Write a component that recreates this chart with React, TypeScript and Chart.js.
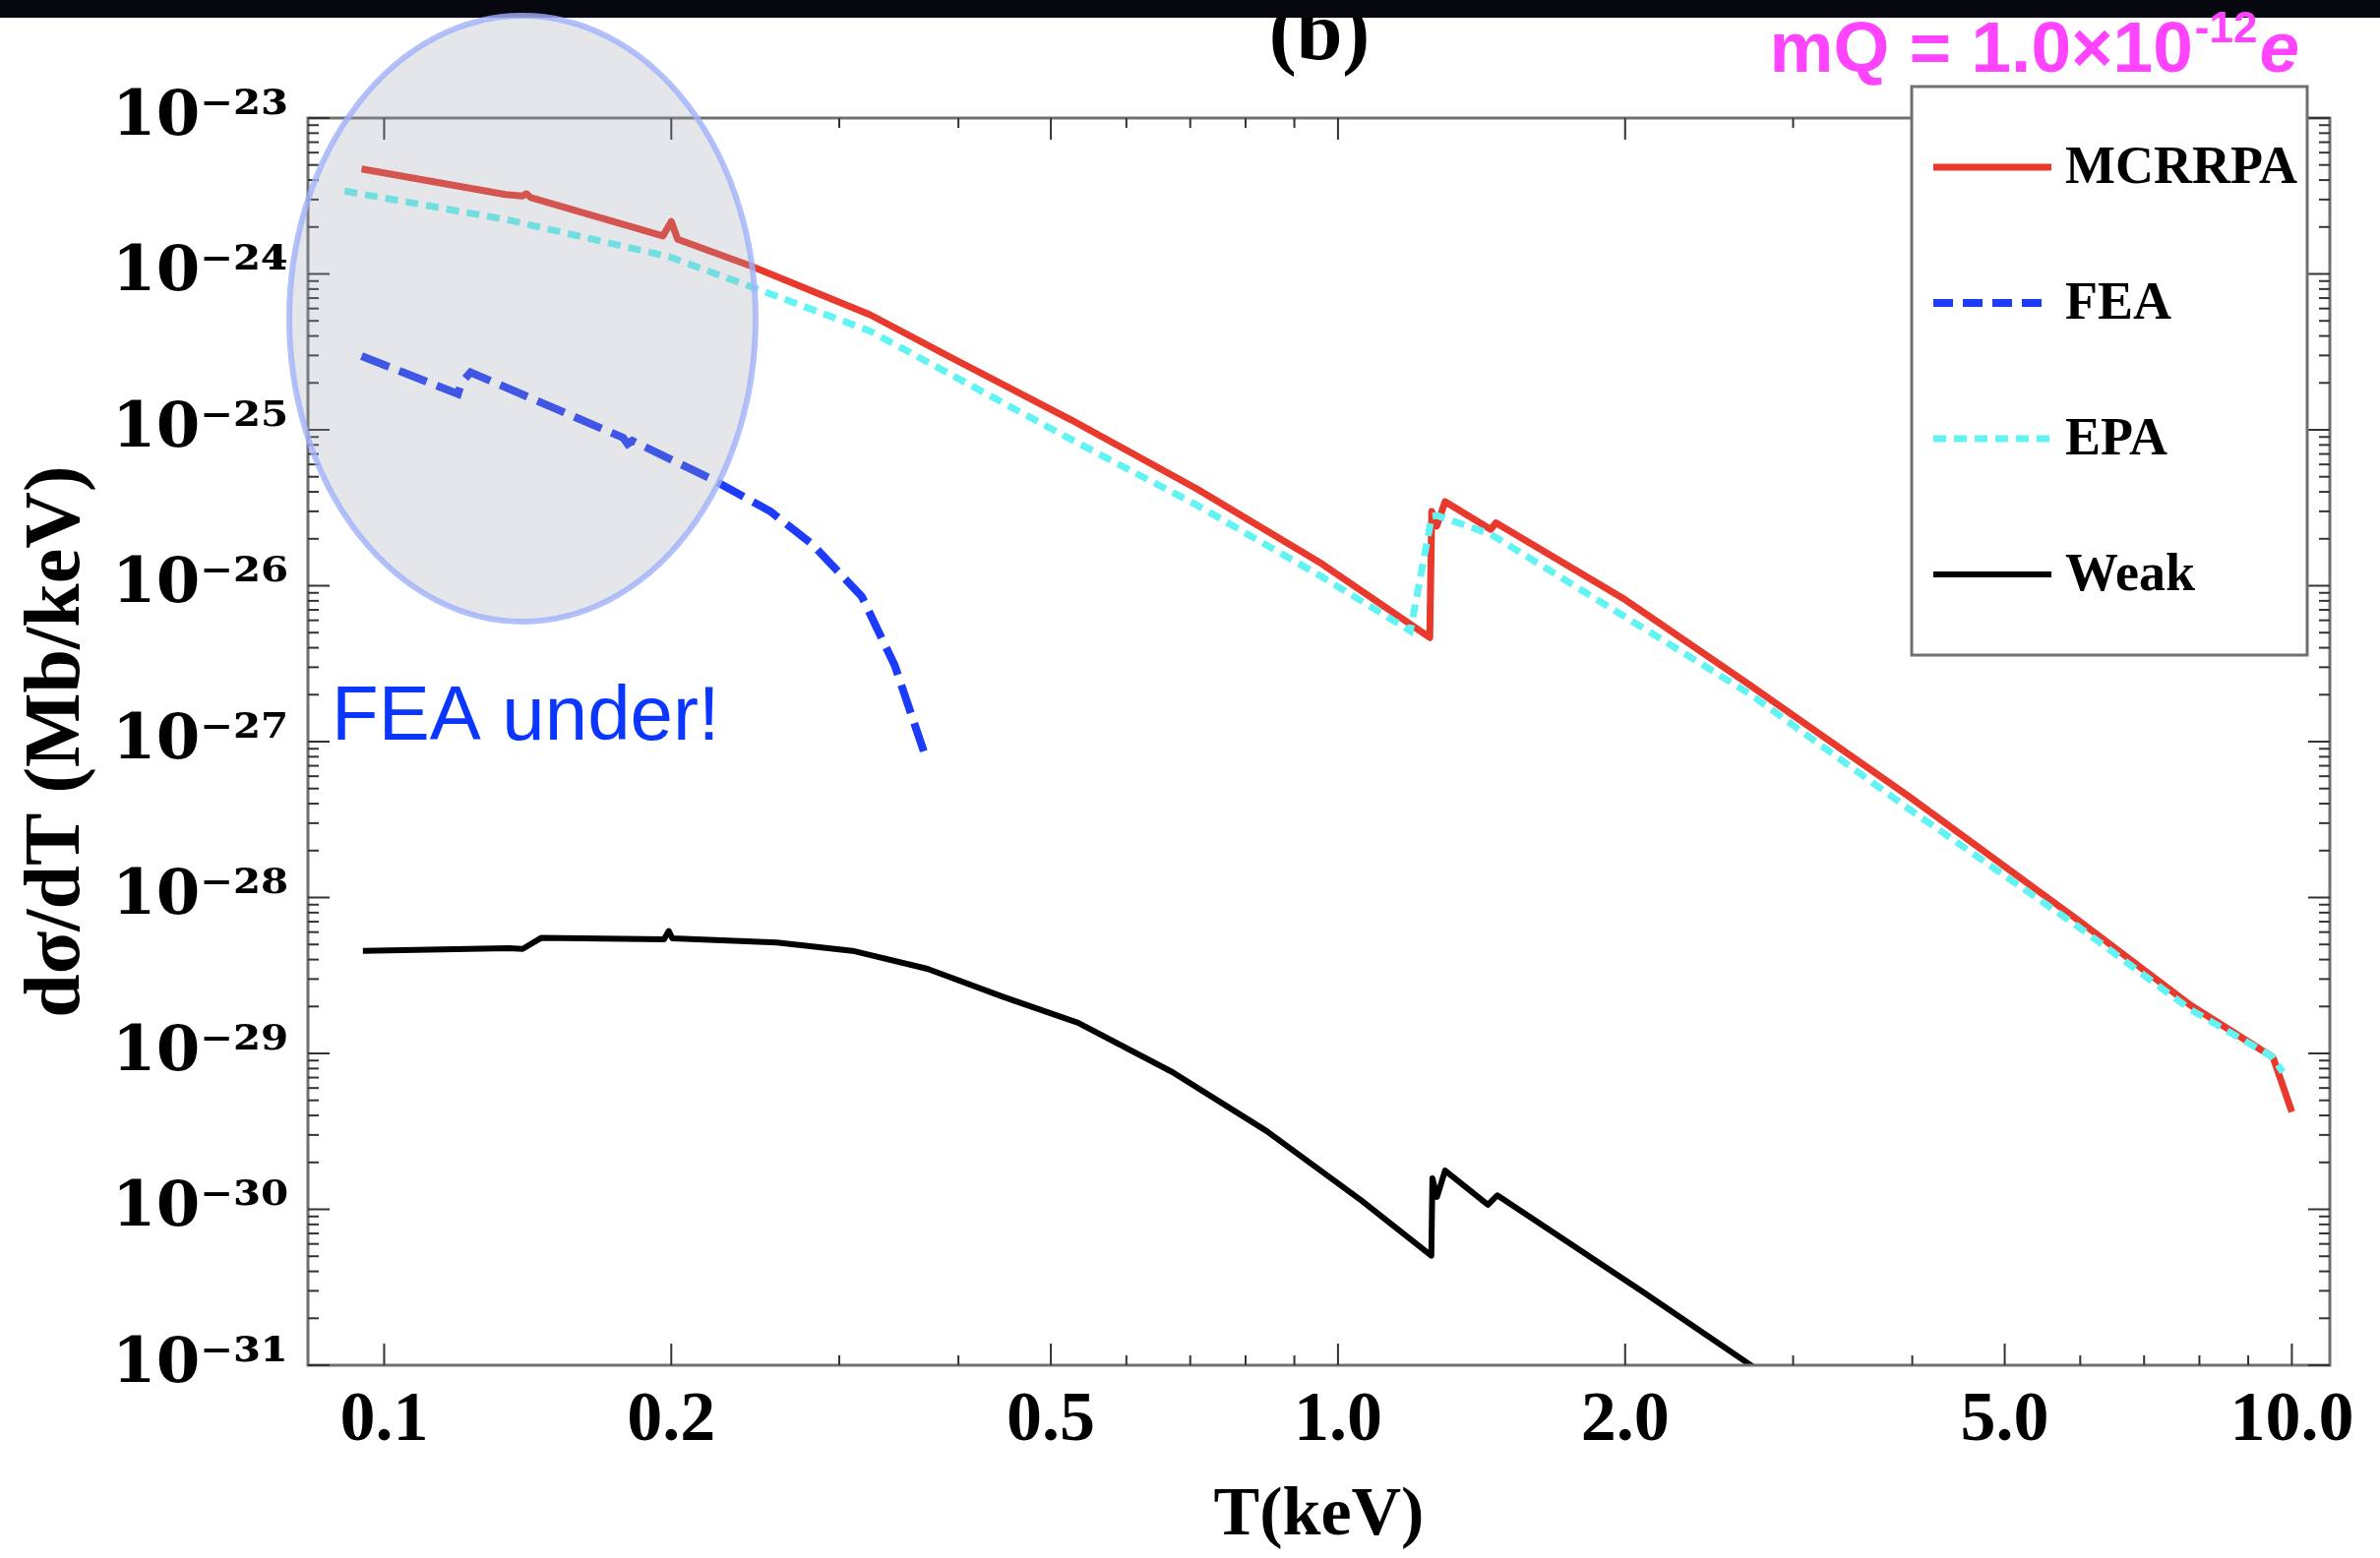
import { useEffect, useRef } from 'react';
import { Chart, registerables } from 'chart.js';

Chart.register(...registerables);

// ---------- data ----------
const SERIES_LABELS = ['MCRRPA', 'FEA', 'EPA', 'Weak'];

const MCRRPA_T = [0.0947, 0.134, 0.1395, 0.141, 0.1425, 0.196, 0.2, 0.2031, 0.2417, 0.3232, 0.3925, 0.5249, 0.7105, 0.9621, 1.248, 1.254, 1.269, 1.295, 1.446, 1.464, 2.003, 2.704, 3.963, 5.965, 7.832, 9.555, 10.0];
const MCRRPA_V = [4.72e-24, 3.23e-24, 3.16e-24, 3.27e-24, 3.09e-24, 1.75e-24, 2.17e-24, 1.67e-24, 1.13e-24, 5.47e-25, 2.92e-25, 1.16e-25, 4.2e-26, 1.38e-26, 4.65e-27, 2.99e-26, 2.41e-26, 3.46e-26, 2.3e-26, 2.53e-26, 8.09e-27, 2.3e-27, 4.47e-28, 7.19e-29, 2.04e-29, 9.44e-30, 4.22e-30];

const FEA_T = [0.0947, 0.1195, 0.1205, 0.1232, 0.178, 0.18, 0.182, 0.2211, 0.2542, 0.2809, 0.3168, 0.343, 0.37];
const FEA_V = [2.97e-25, 1.7e-25, 2.0e-25, 2.34e-25, 8.91e-26, 8.13e-26, 8.51e-26, 4.79e-26, 2.99e-26, 1.85e-26, 8.51e-27, 3.08e-27, 7.82e-28];

const EPA_T = [0.0909, 0.134, 0.199, 0.2408, 0.3232, 0.5249, 0.7105, 0.9621, 1.191, 1.254, 1.27, 1.446, 1.946, 2.704, 3.963, 5.965, 7.832, 9.555, 9.78];
const EPA_V = [3.4e-24, 2.24e-24, 1.29e-24, 8.41e-25, 4.3e-25, 8.69e-26, 3.3e-26, 1.14e-26, 5.13e-27, 2.79e-26, 2.82e-26, 2.14e-26, 7.0e-27, 2.02e-27, 3.72e-28, 6.53e-29, 1.91e-29, 9.44e-30, 7.59e-30];

const WEAK_T = [0.095, 0.1351, 0.1397, 0.1462, 0.1965, 0.1988, 0.2005, 0.258, 0.3097, 0.3712, 0.4453, 0.534, 0.6705, 0.8415, 1.056, 1.2527, 1.256, 1.27, 1.295, 1.436, 1.469, 2.088, 2.8];
const WEAK_V = [4.55e-29, 4.73e-29, 4.68e-29, 5.52e-29, 5.4e-29, 6.1e-29, 5.47e-29, 5.14e-29, 4.55e-29, 3.49e-29, 2.31e-29, 1.57e-29, 7.59e-30, 3.18e-30, 1.15e-30, 5.04e-31, 1.58e-30, 1.2e-30, 1.77e-30, 1.07e-30, 1.23e-30, 2.95e-31, 8.71e-32];

const X_TICKS = [0.1, 0.2, 0.5, 1, 2, 5, 10];
const X_TICK_LABELS = ['0.1', '0.2', '0.5', '1.0', '2.0', '5.0', '10.0'];
const X_MINOR_TICKS = [0.3, 0.4, 0.6, 0.7, 0.8, 0.9, 3, 4, 6, 7, 8, 9];
const Y_TICK_EXPONENTS = [-31, -30, -29, -28, -27, -26, -25, -24, -23];
const Y_MINOR_MULTIPLIERS = [2, 3, 4, 5, 6, 7, 8, 9];

const TITLE_TEXT = '(b)';
const MQ_MAIN = 'mQ = 1.0×10';
const MQ_SUP = '-12';
const MQ_TAIL = 'e';
const NOTE_TEXT = 'FEA under!';
const X_TITLE = 'T(keV)';
const Y_TITLE = 'dσ/dT (Mb/keV)';

// ---------- styling ----------
const SERIF = "'Liberation Serif', 'DejaVu Serif', 'Times New Roman', serif";
const DSERIF = "'DejaVu Serif', 'Liberation Serif', serif";
const SANS = "'Liberation Sans', Arial, Helvetica, sans-serif";
const W = 2419;
const H = 1584;

const SUP: Record<string, string> = {
  '0': '⁰', '1': '¹', '2': '²', '3': '³', '4': '⁴', '5': '⁵', '6': '⁶', '7': '⁷', '8': '⁸', '9': '⁹', '-': '⁻',
};
const supText = (s: string) => s.split('').map((c) => SUP[c] ?? c).join('');

const pts = (t: number[], v: number[]) => t.map((x, i) => ({ x, y: v[i] }));

const decorPlugin = {
  id: 'decor',
  afterDraw(chart: any) {
    const { ctx, chartArea: a, scales } = chart;
    const xs = scales.x;
    const ys = scales.y;
    ctx.save();

    // frame
    ctx.strokeStyle = '#707070';
    ctx.lineWidth = 3;
    ctx.strokeRect(a.left, a.top, a.right - a.left, a.bottom - a.top);

    // inward ticks
    ctx.strokeStyle = '#333333';
    ctx.lineWidth = 2;
    const seg = (x1: number, y1: number, x2: number, y2: number) => {
      ctx.beginPath();
      ctx.moveTo(x1, y1);
      ctx.lineTo(x2, y2);
      ctx.stroke();
    };
    X_TICKS.forEach((v) => {
      const p = xs.getPixelForValue(v);
      seg(p, a.bottom, p, a.bottom - 22);
      seg(p, a.top, p, a.top + 22);
    });
    X_MINOR_TICKS.forEach((v) => {
      const p = xs.getPixelForValue(v);
      seg(p, a.bottom, p, a.bottom - 10);
      seg(p, a.top, p, a.top + 10);
    });
    Y_TICK_EXPONENTS.forEach((e) => {
      const p = ys.getPixelForValue(Math.pow(10, e));
      seg(a.left, p, a.left + 22, p);
      seg(a.right, p, a.right - 22, p);
      if (e < -23) {
        Y_MINOR_MULTIPLIERS.forEach((m) => {
          const q = ys.getPixelForValue(m * Math.pow(10, e));
          seg(a.left, q, a.left + 11, q);
          seg(a.right, q, a.right - 11, q);
        });
      }
    });

    // legend box
    const lx = 1943, ly = 88, lw = 402, lh = 578;
    ctx.fillStyle = '#ffffff';
    ctx.fillRect(lx, ly, lw, lh);
    ctx.strokeStyle = '#707070';
    ctx.lineWidth = 3;
    ctx.strokeRect(lx, ly, lw, lh);
    const rows = [170, 308, 446, 584];
    chart.data.datasets.forEach((ds: any, i: number) => {
      const yy = rows[i];
      ctx.save();
      ctx.strokeStyle = ds.borderColor;
      ctx.lineWidth = ds.borderWidth;
      ctx.setLineDash(ds.legendDash || []);
      ctx.beginPath();
      ctx.moveTo(1965, yy);
      ctx.lineTo(2085, yy);
      ctx.stroke();
      ctx.restore();
      ctx.fillStyle = '#000000';
      ctx.font = `bold 54px ${SERIF}`;
      ctx.textAlign = 'left';
      ctx.textBaseline = 'middle';
      ctx.fillText(ds.label, 2099, yy + 2);
    });

    // panel title "(b)"
    ctx.fillStyle = '#000000';
    ctx.font = `bold 84px ${SERIF}`;
    ctx.textAlign = 'center';
    ctx.textBaseline = 'alphabetic';
    ctx.fillText(TITLE_TEXT, 1341, 60);

    // black bar at top
    ctx.fillStyle = '#07070f';
    ctx.fillRect(0, 0, W, 18);

    // magenta charge label
    const mainFont = `bold 73px ${SANS}`;
    const supFont = `bold 44px ${SANS}`;
    const tailFont = `italic bold 73px ${SANS}`;
    ctx.font = mainFont;
    const w1 = ctx.measureText(MQ_MAIN).width;
    ctx.font = supFont;
    const w2 = ctx.measureText(MQ_SUP).width;
    ctx.font = tailFont;
    const w3 = ctx.measureText(MQ_TAIL).width;
    let sx = 2337 - (w1 + w2 + w3 + 4);
    const base = 73;
    ctx.fillStyle = '#ff44ff';
    ctx.textAlign = 'left';
    ctx.font = mainFont;
    ctx.fillText(MQ_MAIN, sx, base);
    sx += w1 + 2;
    ctx.font = supFont;
    ctx.fillText(MQ_SUP, sx, base - 30);
    sx += w2 + 2;
    ctx.font = tailFont;
    ctx.fillText(MQ_TAIL, sx, base);

    // grey highlight ellipse
    ctx.beginPath();
    ctx.ellipse(531, 324, 237, 308, 0, 0, Math.PI * 2);
    ctx.fillStyle = 'rgba(160, 163, 176, 0.27)';
    ctx.fill();
    ctx.strokeStyle = 'rgba(160, 178, 250, 0.8)';
    ctx.lineWidth = 6;
    ctx.stroke();

    // blue note
    ctx.fillStyle = '#0a36ff';
    ctx.font = `78px ${SANS}`;
    ctx.textAlign = 'left';
    ctx.textBaseline = 'alphabetic';
    ctx.fillText(NOTE_TEXT, 337, 752);

    ctx.restore();
  },
};

export default function App() {
  const ref = useRef<HTMLCanvasElement>(null);

  useEffect(() => {
    if (!ref.current) return;
    const chart = new Chart(ref.current, {
      type: 'line',
      data: {
        datasets: [
          {
            label: SERIES_LABELS[0],
            data: pts(MCRRPA_T, MCRRPA_V),
            borderColor: '#e8392c',
            borderWidth: 7,
            pointRadius: 0,
            tension: 0,
            order: 1,
            borderJoinStyle: 'round',
          } as any,
          {
            label: SERIES_LABELS[1],
            data: pts(FEA_T, FEA_V),
            borderColor: '#1d3cfa',
            borderWidth: 8,
            borderDash: [30, 11],
            legendDash: [20, 10],
            pointRadius: 0,
            tension: 0,
            order: 2,
          } as any,
          {
            label: SERIES_LABELS[2],
            data: pts(EPA_T, EPA_V),
            borderColor: '#62f4f2',
            borderWidth: 7,
            borderDash: [13, 8],
            legendDash: [13, 8],
            pointRadius: 0,
            tension: 0,
            order: 0,
          } as any,
          {
            label: SERIES_LABELS[3],
            data: pts(WEAK_T, WEAK_V),
            borderColor: '#000000',
            borderWidth: 6,
            pointRadius: 0,
            tension: 0,
            order: 3,
            borderJoinStyle: 'round',
          } as any,
        ],
      },
      options: {
        responsive: false,
        animation: false,
        devicePixelRatio: 1,
        events: [],
        layout: { padding: { top: 120, right: 51, left: 0, bottom: 0 } },
        plugins: {
          legend: { display: false },
          tooltip: { enabled: false },
          title: { display: false },
        },
        scales: {
          x: {
            type: 'logarithmic',
            min: 0.0832,
            max: 10.96,
            grid: { display: false, drawTicks: false },
            border: { display: false },
            afterBuildTicks: (s: any) => {
              s.ticks = X_TICKS.map((v) => ({ value: v }));
            },
            afterFit: (s: any) => {
              s.height = 196;
            },
            ticks: {
              autoSkip: false,
              maxRotation: 0,
              padding: 14,
              color: '#000000',
              font: { family: SERIF, size: 72, weight: 'bold' },
              callback: (_v: any, i: number) => X_TICK_LABELS[i],
            },
            title: {
              display: true,
              text: X_TITLE,
              color: '#000000',
              font: { family: SERIF, size: 70, weight: 'bold' },
              padding: { top: 0, bottom: 0 },
            },
          },
          y: {
            type: 'logarithmic',
            min: 1e-31,
            max: 1e-23,
            grid: { display: false, drawTicks: false },
            border: { display: false },
            afterBuildTicks: (s: any) => {
              s.ticks = Y_TICK_EXPONENTS.map((e) => ({ value: Math.pow(10, e) }));
            },
            afterFit: (s: any) => {
              s.width = 313;
            },
            ticks: {
              autoSkip: false,
              padding: 20,
              color: '#000000',
              font: { family: DSERIF, size: 64, weight: 'bold' },
              callback: (_v: any, i: number) => '10' + supText(String(Y_TICK_EXPONENTS[i])),
            },
            title: {
              display: true,
              text: Y_TITLE,
              color: '#000000',
              font: { family: SERIF, size: 80, weight: 'bold' },
              padding: { top: 11, bottom: 0 },
            },
          },
        },
      } as any,
      plugins: [decorPlugin],
    });
    return () => chart.destroy();
  }, []);

  return (
    <div style={{ position: 'fixed', left: 0, top: 0, width: W, height: H, background: '#ffffff' }}>
      <canvas ref={ref} width={W} height={H} style={{ display: 'block', width: W, height: H }} />
    </div>
  );
}
